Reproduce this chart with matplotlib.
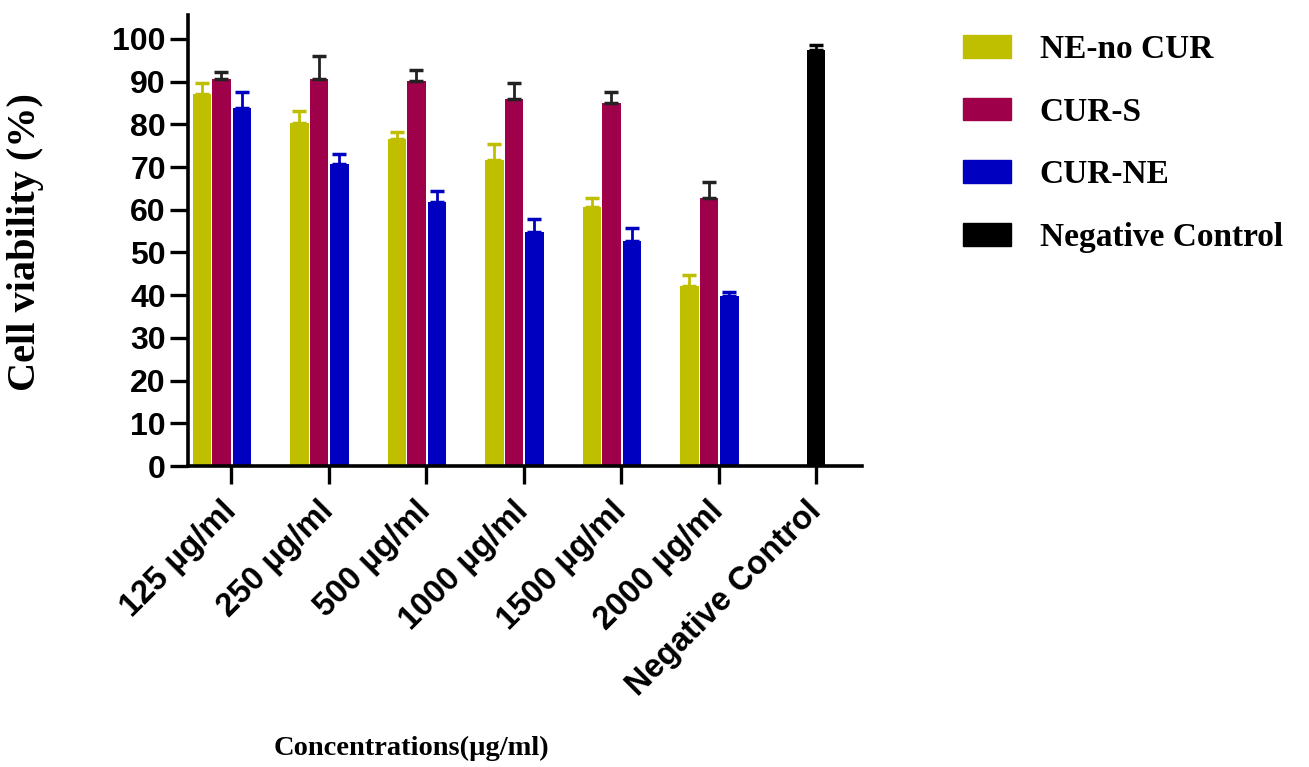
import numpy as np
import matplotlib
matplotlib.use('Agg')
import matplotlib.pyplot as plt
from matplotlib.patches import Patch

# values (upper SEM bars only)
groups = ['125 µg/ml', '250 µg/ml', '500 µg/ml', '1000 µg/ml',
          '1500 µg/ml', '2000 µg/ml', 'Negative Control']
ne_no_cur = [87.0, 80.2, 76.6, 71.7, 60.6, 42.2]
ne_no_cur_err = [2.6, 3.0, 1.7, 3.6, 2.1, 2.5]
cur_s = [90.6, 90.6, 90.2, 85.9, 84.9, 62.8]
cur_s_err = [1.6, 5.3, 2.5, 3.7, 2.7, 3.6]
cur_ne = [83.9, 70.7, 61.8, 54.9, 52.8, 39.7]
cur_ne_err = [3.6, 2.4, 2.5, 3.0, 3.0, 1.0]
neg_control = [97.5]
neg_control_err = [1.0]

yellow = '#bfbf00'
crimson = '#9e0049'
blue = '#0000c0'

fig = plt.figure(figsize=(13.09, 7.67), dpi=100)
ax = fig.add_axes([188 / 1309, 1 - 466 / 767, (862 - 188) / 1309, (466 - 15) / 767])

x = np.arange(len(groups))
w = 0.19
conc = x[:6]

def bars(xpos, vals, errs, color, ecolor):
    ax.bar(xpos, vals, width=w, color=color, edgecolor='none', zorder=2)
    ax.errorbar(xpos, vals, yerr=[np.zeros(len(errs)), errs], fmt='none',
                ecolor=ecolor, elinewidth=2, capsize=5, capthick=2.5, zorder=3)

bars(conc - 0.30, ne_no_cur, ne_no_cur_err, yellow, yellow)
bars(conc - 0.10, cur_s, cur_s_err, crimson, '#222222')
bars(conc + 0.11, cur_ne, cur_ne_err, blue, blue)
bars(x[6:], neg_control, neg_control_err, 'black', 'black')

ax.set_xlim(-0.443, 6.47)
ax.set_ylim(0, 105.6)
ax.set_yticks(np.arange(0, 101, 10))
ax.set_xticks(x)
ax.set_xticklabels(groups, rotation=45, ha='right', va='center',
                   rotation_mode='anchor', fontsize=23.5,
                   fontweight='bold', family='Liberation Sans')
for lab in ax.get_yticklabels():
    lab.set_fontsize(23)
    lab.set_fontweight('bold')
    lab.set_family('Liberation Sans')

for s in ['top', 'right']:
    ax.spines[s].set_visible(False)
for s in ['left', 'bottom']:
    ax.spines[s].set_linewidth(2.6)
ax.tick_params(axis='both', length=13, width=2.4)
ax.tick_params(axis='y', pad=3)
ax.tick_params(axis='x', pad=16)

fig.text(26 / 1309, 1 - 242 / 767, 'Cell viability (%)', rotation=90,
         ha='center', va='center', fontsize=29, fontweight='bold',
         family='Liberation Serif')
fig.text(411 / 1309, 1 - 748 / 767, 'Concentrations(µg/ml)', ha='center',
         va='center', fontsize=20.5, fontweight='bold', family='Liberation Serif')

handles = [Patch(color=c) for c in [yellow, crimson, blue, 'black']]
fig.legend(handles, ['NE-no CUR', 'CUR-S', 'CUR-NE', 'Negative Control'],
           loc='upper left', bbox_to_anchor=(963 / 1309, 1 - 34 / 767),
           frameon=False, borderpad=0, borderaxespad=0, handlelength=1.45,
           handleheight=0.67, handletextpad=0.85, labelspacing=0.95,
           prop={'family': 'Liberation Serif', 'weight': 'bold', 'size': 24})

fig.savefig('out.png', dpi=100)
